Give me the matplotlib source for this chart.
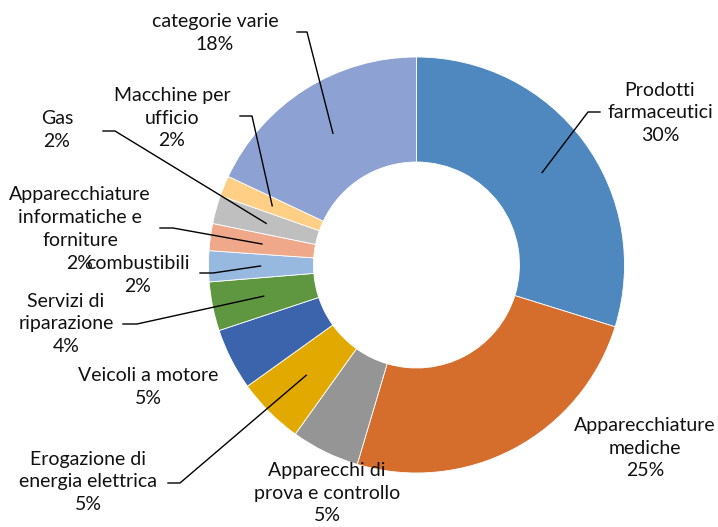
import numpy as np
import matplotlib.pyplot as plt

plt.rcParams['font.family'] = ['Lato', 'DejaVu Sans']

# dati (percentuali)
categorie = ["Prodotti\nfarmaceutici", "Apparecchiature\nmediche",
             "Apparecchi di\nprova e controllo", "Erogazione di\nenergia elettrica",
             "Veicoli a motore", "Servizi di\nriparazione", "combustibili",
             "Apparecchiature\ninformatiche e\nforniture", "Gas",
             "Macchine per\nufficio", "categorie varie"]
valori = [29.8, 24.8, 5.3, 5.2, 4.8, 3.8, 2.4, 2.1, 2.2, 1.6, 18.0]
colori = ['#4F88BE', '#D56E2C', '#959595', '#E2AA00', '#3C64AC', '#5F9640',
          '#97B9E0', '#F0A88A', '#BFBFBF', '#FECF84', '#8DA2D2']

# layout (pixel, origine in alto)
pos_testo = [(660, 113), (645, 448), (327, 493), (88, 482), (148, 387),
             (66, 324), (138, 275), (80, 229), (57, 130), (172, 118), (215, 33)]
gomiti = [(600, 588, 112), None, None, (168, 180, 483), None,
          (123, 137, 324), (200, 213, 273), (160, 173, 228), (103, 115, 131),
          (240, 252, 116), (297, 307, 32)]

W, H = 718, 527
cx, cy, R = 416.5, H - 265, 208

fig = plt.figure(figsize=(W / 100, H / 100), dpi=100)
ax = fig.add_axes([0, 0, 1, 1])
wedges, _ = ax.pie(valori, colors=colori, startangle=90, counterclock=False,
                   radius=R, center=(cx, cy),
                   wedgeprops=dict(width=105, edgecolor='white', linewidth=0.6))
ax.set_xlim(0, W)
ax.set_ylim(0, H)
ax.set_aspect('equal')
ax.axis('off')

for w, cat, v, (tx, ty), g in zip(wedges, categorie, valori, pos_testo, gomiti):
    ax.text(tx, H - ty, f"{cat}\n{round(v)}%", ha='center', va='center',
            multialignment='center', fontsize=14, linespacing=1.42, color='#111111')
    if g is not None:
        mid = np.deg2rad((w.theta1 + w.theta2) / 2)
        px = cx + 0.75 * R * np.cos(mid)
        py = cy + 0.75 * R * np.sin(mid)
        ax.plot([g[0], g[1], px], [H - g[2], H - g[2], py], color='black', lw=1)

plt.savefig('out.png', dpi=100)
